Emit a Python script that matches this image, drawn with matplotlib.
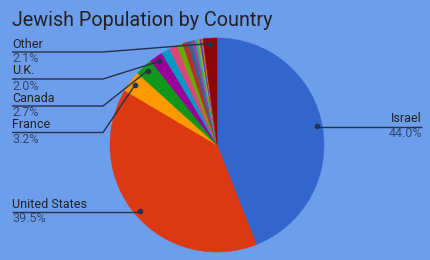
import numpy as np
import matplotlib
matplotlib.use('agg')
import matplotlib.pyplot as plt

# share of world Jewish population, in percent
countries = ["Israel", "United States", "France", "Canada", "U.K.",
             "Argentina", "Russia", "Germany", "Australia", "Brazil",
             "South Africa", "Hungary", "Ukraine", "Mexico", "Netherlands",
             "Other"]
shares = [44.0, 39.5, 3.2, 2.7, 2.0,
          1.3, 1.2, 0.9, 0.8, 0.6,
          0.5, 0.4, 0.3, 0.3, 0.2,
          2.1]
colors = ["#3366cc", "#dc3912", "#ff9900", "#109618", "#990099",
          "#0099c6", "#dd4477", "#66aa00", "#b82e2e", "#316395",
          "#994499", "#22aa99", "#aaaa11", "#6633cc", "#e67300",
          "#8b0707"]

# which slices get a label, and where the label line sits (pixels)
labeled = {"Other": 52, "U.K.": 79, "Canada": 106, "France": 132.5,
           "United States": 212, "Israel": 126.5}

W, H = 431, 260
BG = "#6d9eeb"
TXT = "#222222"
PCT = "#34466b"
LINE = "#26324a"

plt.rcParams['font.family'] = ['Roboto', 'DejaVu Sans']

fig = plt.figure(figsize=(W / 100, H / 100), dpi=100, facecolor=BG)
ax = fig.add_axes([0, 0, 1, 1], facecolor=BG)

cx, cy, R = 217, 145, 107
wedges, _ = ax.pie(shares, colors=colors, startangle=-90, counterclock=True,
                   center=(cx, cy), radius=R,
                   wedgeprops=dict(linewidth=0.4, antialiased=True))
for w, c in zip(wedges, colors):
    w.set_edgecolor(c)

ax.set_xlim(0, W)
ax.set_ylim(H, 0)
ax.set_aspect('auto')
ax.axis('off')

ax.text(12, 26, "Jewish Population by Country", fontsize=14.2, color=TXT,
        ha='left', va='baseline')

total = sum(shares)
for w, name, val in zip(wedges, countries, shares):
    if name not in labeled:
        continue
    ly = labeled[name]
    mid = np.deg2rad((w.theta1 + w.theta2) / 2)
    dx = cx + 0.95 * R * np.cos(mid)
    dy = cy + 0.95 * R * np.sin(mid)
    pct = f"{val / total * 100:.1f}%"
    if dx > cx:
        # right hand label
        ax.plot([dx, 422], [ly, ly], color=LINE, lw=1, solid_capstyle='butt')
        ax.plot([dx], [dy], 'o', ms=3, color=LINE)
        ax.text(422, ly - 4.5, name, fontsize=9, color=TXT, ha='right', va='baseline')
        ax.text(422, ly + 10.5, pct, fontsize=9, color=PCT, ha='right', va='baseline')
    else:
        bend = 103
        if abs(dy - ly) < 2:
            ax.plot([12, dx], [ly, ly], color=LINE, lw=1, solid_capstyle='butt')
        else:
            ax.plot([12, bend, dx], [ly, ly, dy], color=LINE, lw=1,
                    solid_capstyle='butt')
        ax.plot([dx], [dy], 'o', ms=3, color=LINE)
        ax.text(12, ly - 4.5, name, fontsize=9, color=TXT, ha='left', va='baseline')
        ax.text(12, ly + 10.5, pct, fontsize=9, color=PCT, ha='left', va='baseline')

fig.savefig("out.png", dpi=100, facecolor=BG)
